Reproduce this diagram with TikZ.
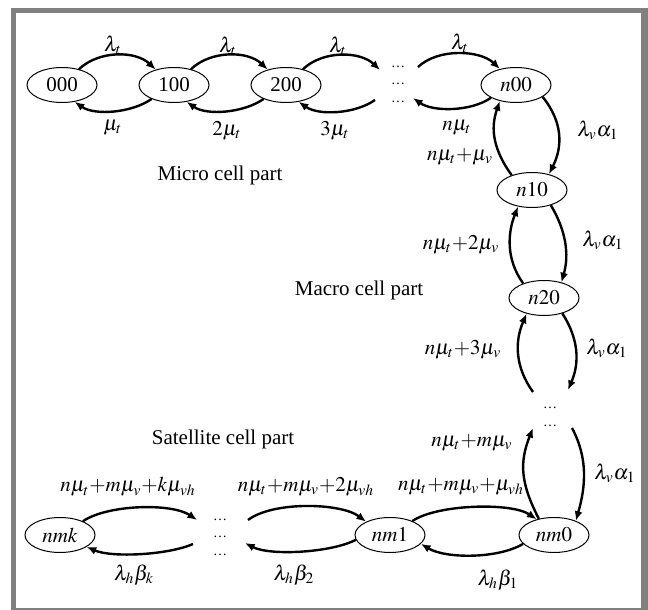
\documentclass[tikz,border=0pt]{standalone}
\usepackage{mathptmx}
\usepackage{fontspec}
\setmainfont{Liberation Serif}
\usetikzlibrary{arrows.meta, shapes.geometric}

\begin{document}
\begin{tikzpicture}[x=0.5pt, y=-0.5pt,
    state/.style={draw, ellipse, line width=0.5pt, minimum width=35pt, minimum height=17.5pt, inner sep=0pt, font=\fontsize{10.5}{12}\selectfont},
    trans/.style={line width=1.2pt, -{Latex[length=4.8pt, width=4pt]}},
    lbl/.style={inner sep=0pt, font=\fontsize{10.5}{12}\selectfont},
    dotcol/.style={align=center, inner sep=0pt, font=\fontsize{7}{8.75}\selectfont}]

    % Frame
    \useasboundingbox (0,0) rectangle (648,610);
    \fill[gray] (11,8) rectangle (648,610);
    \fill[white] (16,13) rectangle (641,608);

    % Micro cell part
    \node[state] (s000) at (62,85) {000};
    \node[state] (s100) at (174,85) {100};
    \node[state] (s200) at (286,85) {200};
    \node[dotcol] (tdots) at (398,84) {\ldots\\\ldots\\\ldots};
    \node[state] (n00) at (516,85) {$n00$};
    \coordinate (tdin) at (380,70);
    \coordinate (tdout) at (375,100);
    \coordinate (tdout2) at (418,67);
    \coordinate (tdin2) at (413,98);

    \foreach \a/\b in {s000/s100, s100/s200} {
        \draw[trans] (\a.43) .. controls +(20,-19) and +(-20,-19) .. (\b.140);
        \draw[trans] (\b.212) .. controls +(-20,14) and +(20,14) .. (\a.307);
    }
    \draw[trans] (s200.43) .. controls +(20,-19) and +(-20,-19) .. (tdin);
    \draw[trans] (tdout) .. controls +(-20,14) and +(20,14) .. (s200.307);
    \draw[trans] (tdout2) .. controls +(20,-19) and +(-20,-19) .. (n00.135);
    \draw[trans] (n00.207) .. controls +(-20,14) and +(20,14) .. (tdin2);

    \node[lbl] (lt1) at (113,45) {$\lambda_t$};
    \node[lbl] (lt2) at (228,46) {$\lambda_t$};
    \node[lbl] (lt3) at (338,46) {$\lambda_t$};
    \node[lbl] (lt4) at (460,43) {$\lambda_t$};
    \node[lbl] (mt1) at (113,128) {$\mu_t$};
    \node[lbl] (mt2) at (227,131) {$2\mu_t$};
    \node[lbl] (mt3) at (335,131) {$3\mu_t$};
    \node[lbl] (mt4) at (457,128) {$n\mu_t$};
    \node[lbl] (micro) at (220,175) {Micro cell part};

    % Macro cell part
    \node[state] (n10) at (532,190) {$n10$};
    \node[state] (n20) at (544,298) {$n20$};
    \node[dotcol] (vdots) at (550,417) {\ldots\\\ldots};
    \coordinate (vdin) at (568,390);
    \coordinate (vdout) at (533,392);
    \coordinate (vdout2) at (572,428);
    \coordinate (vdin2) at (533,428);

    \draw[trans] (n00.336) .. controls +(20,25) and +(14,-28) .. (n10.43);
    \draw[trans] (n10.144) .. controls +(-18,-25) and +(-10,28) .. (n00.225);
    \draw[trans] (n10.321) .. controls +(15,25) and +(8,-28) .. (n20.42);
    \draw[trans] (n20.145) .. controls +(-18,-25) and +(-10,25) .. (n10.230);
    \draw[trans] (n20.320) .. controls +(16,25) and +(12,-28) .. (vdin);
    \draw[trans] (vdout) .. controls +(-18,-25) and +(-12,28) .. (n20.222);

    \node[lbl] (la1) at (598,130) {$\lambda_v\alpha_1$};
    \node[lbl] (mv1) at (460,157) {$n\mu_t{+}\mu_v$};
    \node[lbl] (la2) at (603,240) {$\lambda_v\alpha_1$};
    \node[lbl] (mv2) at (461,245) {$n\mu_t{+}2\mu_v$};
    \node[lbl] (la3) at (607,348) {$\lambda_v\alpha_1$};
    \node[lbl] (mv3) at (463,350) {$n\mu_t{+}3\mu_v$};
    \node[lbl] (macro) at (359,290) {Macro cell part};

    % Satellite cell part
    \node[state] (nm0) at (554,535) {$nm0$};
    \node[state] (nm1) at (390,535) {$nm1$};
    \node[dotcol] (bdots) at (220,537) {\ldots\\\ldots\\\ldots};
    \node[state] (nmk) at (60,535) {$nmk$};
    \coordinate (bdin) at (197,520);
    \coordinate (bdout) at (193,544);
    \coordinate (bdout2) at (248,520);
    \coordinate (bdin2) at (245,543);

    \draw[trans] (vdout2) .. controls +(16,30) and +(10,-35) .. (nm0.33);
    \draw[trans] (nm0.133) .. controls +(-18,-35) and +(-14,35) .. (vdin2);
    \draw[trans] (nm1.32) .. controls +(25,-17) and +(-25,-17) .. (nm0.138);
    \draw[trans] (nm0.196) .. controls +(-25,15) and +(25,15) .. (nm1.344);
    \draw[trans] (bdout2) .. controls +(25,-19) and +(-25,-19) .. (nm1.151);
    \draw[trans] (nm1.188) .. controls +(-25,13) and +(25,13) .. (bdin2);
    \draw[trans] (nmk.31) .. controls +(25,-17) and +(-25,-17) .. (bdin);
    \draw[trans] (bdout) .. controls +(-25,11) and +(25,11) .. (nmk.336);

    \node[lbl] (mv4) at (472,443) {$n\mu_t{+}m\mu_v$};
    \node[lbl] (la4) at (615,473) {$\lambda_v\alpha_1$};
    \node[lbl] (mh1) at (461,487) {$n\mu_t{+}m\mu_v{+}\mu_{vh}$};
    \node[lbl] (mh2) at (306,487) {$n\mu_t{+}m\mu_v{+}2\mu_{vh}$};
    \node[lbl] (mhk) at (128,487) {$n\mu_t{+}m\mu_v{+}k\mu_{vh}$};
    \node[lbl] (lb1) at (498,580) {$\lambda_h\beta_1$};
    \node[lbl] (lb2) at (294,575) {$\lambda_h\beta_2$};
    \node[lbl] (lbk) at (134,575) {$\lambda_h\beta_k$};
    \node[lbl] (sat) at (223,439) {Satellite cell part};

\end{tikzpicture}
\end{document}
